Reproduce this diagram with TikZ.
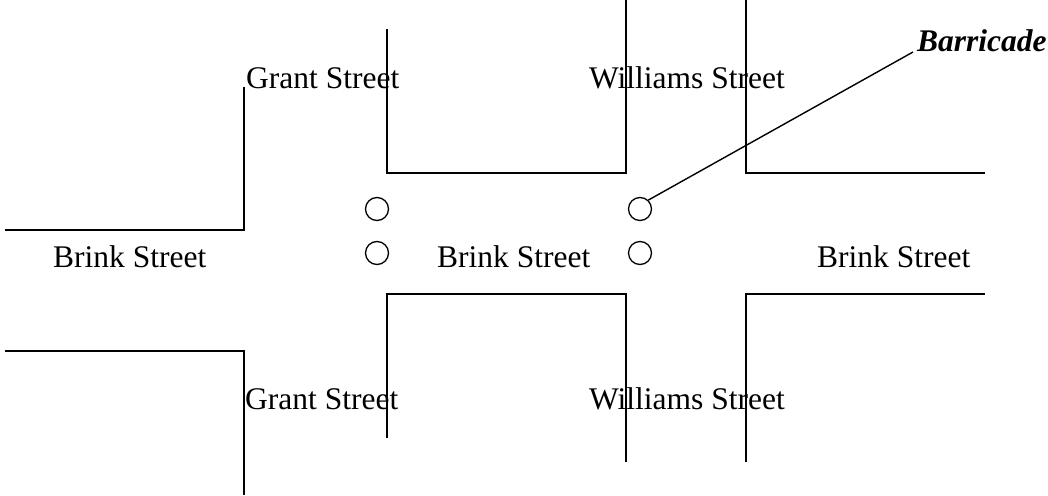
\documentclass[tikz,border=0pt]{standalone}
\usepackage{fontspec}
\setmainfont{Liberation Serif}
\usetikzlibrary{positioning}
\begin{document}
\begin{tikzpicture}[x=1pt,y=-1pt,
	road/.style={line width=1.6pt},
	street/.style={font=\fontsize{31.5}{36}\selectfont, inner sep=0pt, anchor=base west},
	cone/.style={draw, circle, line width=1.3pt, minimum size=23pt, inner sep=0pt}]
				\useasboundingbox (0,0) rectangle (1048,495);
				\draw[road] (5,230)--(244,230)--(244,87);
				\draw[road] (5,351)--(244,351)--(244,495);
				\draw[road] (387,29)--(387,173)--(626,173)--(626,0);
				\draw[road] (746,0)--(746,173)--(985,173);
				\draw[road] (387,438)--(387,294)--(626,294)--(626,462);
				\draw[road] (746,462)--(746,294)--(985,294);
				\node[street] (grantN) at (246,88) {Grant Street};
				\node[street] (williamsN) at (589,88) {Williams Street};
				\node[street] (brinkW) at (53,267) {Brink Street};
				\node[street] (brinkC) at (437,267) {Brink Street};
				\node[street] (brinkE) at (817,267) {Brink Street};
				\node[street] (grantS) at (245,409) {Grant Street};
				\node[street] (williamsS) at (589,409) {Williams Street};
				\node[cone] (coneNW) at (377,209) {};
				\node[cone] (coneSW) at (377,253) {};
				\node[cone] (coneNE) at (640,209) {};
				\node[cone] (coneSE) at (640,253) {};
				\node[street, font=\fontsize{31.5}{36}\selectfont\bfseries\itshape] (barricade) at (917,52) {Barricade};
				\draw[line width=1.4pt] (coneNE.47)--([xshift=-4pt]barricade.base west);
			\end{tikzpicture}
\end{document}
